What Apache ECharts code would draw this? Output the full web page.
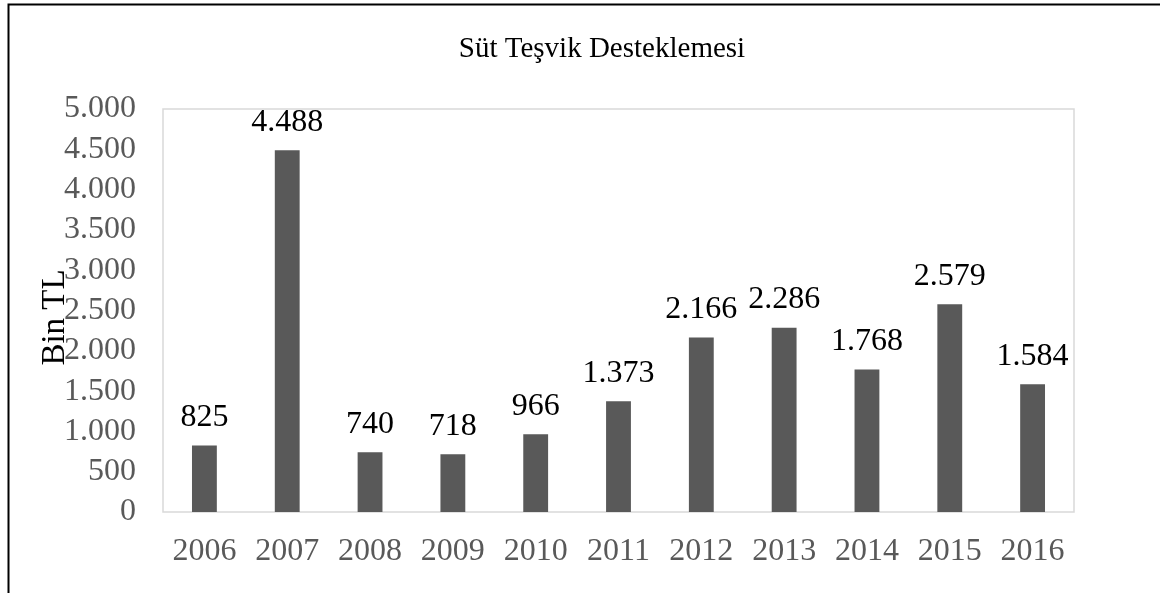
<!DOCTYPE html>
<html>
<head>
<meta charset="utf-8">
<script src="https://cdn.jsdelivr.net/npm/echarts@6/dist/echarts.min.js"></script>
<style>
  html, body { margin: 0; padding: 0; background: #fff; }
  #chart { width: 1160px; height: 593px; }
</style>
</head>
<body>
<div id="chart"></div>
<script>
const years = ['2006', '2007', '2008', '2009', '2010', '2011', '2012', '2013', '2014', '2015', '2016']
const values = [825, 4488, 740, 718, 966, 1373, 2166, 2286, 1768, 2579, 1584]

const serif = '"Liberation Serif", "DejaVu Serif", serif'
// binlik ayırıcı nokta (Türkçe)
const fmt = v => String(v).replace(/\B(?=(\d{3})+(?!\d))/g, '.')

const myChart = echarts.init(document.getElementById('chart'))
myChart.setOption({
  animation: false,
  title: {
    text: 'Süt Teşvik Desteklemesi',
    left: 597,
    top: 30,
    textAlign: 'center',
    textStyle: { fontFamily: serif, fontSize: 29, fontWeight: 'normal', color: '#000' }
  },
  graphic: [
    {
      type: 'rect',
      shape: { x: 8.5, y: 4.5, width: 1200, height: 700 },
      style: { fill: 'none', stroke: '#000', lineWidth: 2 }
    }
  ],
  grid: {
    left: 163,
    right: 86,
    top: 109,
    bottom: 81,
    show: true,
    borderColor: '#d9d9d9',
    borderWidth: 1.5,
    containLabel: false
  },
  xAxis: {
    type: 'category',
    data: years,
    axisLine: { show: false },
    axisTick: { show: false },
    axisLabel: { interval: 0, fontFamily: serif, fontSize: 32, color: '#595959', margin: 24 }
  },
  yAxis: {
    type: 'value',
    min: 0,
    max: 5000,
    interval: 500,
    name: 'Bin TL',
    nameLocation: 'middle',
    nameGap: 91,
    nameRotate: 90,
    nameMoveOverlap: false, // isim eksen etiketlerinin üstüne binsin
    nameTextStyle: { fontFamily: serif, fontSize: 33, color: '#000', padding: [0, 14, 0, 0] },
    splitLine: { show: false },
    axisLine: { show: false },
    axisTick: { show: false },
    axisLabel: {
      fontFamily: serif,
      fontSize: 32,
      color: '#595959',
      margin: 27,
      formatter: v => fmt(v)
    }
  },
  series: [
    {
      type: 'bar',
      data: values,
      barWidth: '30%',
      itemStyle: { color: '#595959' },
      label: {
        show: true,
        position: 'top',
        distance: 12,
        fontFamily: serif,
        fontSize: 32,
        color: '#000',
        formatter: p => fmt(p.value)
      }
    }
  ]
})
</script>
</body>
</html>
